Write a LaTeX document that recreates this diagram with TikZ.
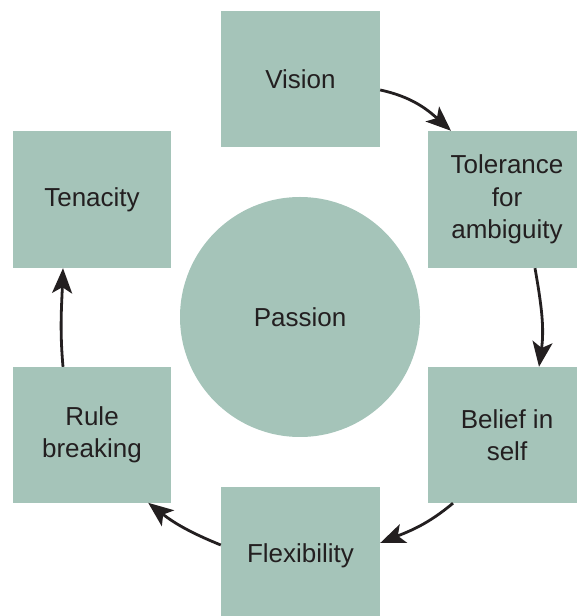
\documentclass[tikz,border=0pt]{standalone}
\usepackage{fontspec}
\setmainfont{Liberation Sans}
\usetikzlibrary{arrows.meta,calc}
\definecolor{sage}{HTML}{A5C4B9}
\definecolor{ink}{HTML}{231F20}
\begin{document}
\begin{tikzpicture}[x=1pt,y=1pt,
  trait/.style={fill=sage,draw=none,inner sep=2pt,align=center,text=ink,
    font=\fontsize{26}{32.5}\selectfont},
  cycle/.style={draw=ink,line width=2.8pt,
    -{Stealth[length=25pt,width=20pt,inset=6pt]}}]
\useasboundingbox (0,0) rectangle (576,616);
% six traits around the centre
\node[trait,minimum width=159pt,minimum height=136pt] (vision) at (300.5,537) {Vision};
\node[trait,minimum width=158pt,minimum height=137pt] (tolerance) at (507,416.5) {Tolerance\\for\\ambiguity};
\node[trait,minimum width=158pt,minimum height=136pt] (belief) at (507,181) {Belief in\\self};
\node[trait,minimum width=159pt,minimum height=137pt] (flex) at (300.5,60.5) {Flexibility};
\node[trait,minimum width=158pt,minimum height=136pt] (rule) at (92,181) {Rule\\breaking};
\node[trait,minimum width=158pt,minimum height=137pt] (tenacity) at (92,416.5) {Tenacity};
% centre
\node[trait,circle,minimum size=240pt] (passion) at (300,299) {Passion};
% cycle of curved arrows
\draw[cycle] ($(vision.east)+(0,-11)$) to[out=-12,in=138] ($(tolerance.north)+(-56,0)$);
\draw[cycle] ($(tolerance.south)+(28,0)$) to[out=-80,in=82] ($(belief.north)+(32,0)$);
\draw[cycle] ($(belief.south)+(-54,0)$) to[out=-140,in=22] ($(flex.east)+(0,12.5)$);
\draw[cycle] ($(flex.west)+(0,10.5)$) to[out=158,in=-38] ($(rule.north east)+(-23,-136)$);
\draw[cycle] ($(rule.north)+(-29,0)$) to[out=95,in=-92] ($(tenacity.south)+(-29,0)$);
\end{tikzpicture}
\end{document}
